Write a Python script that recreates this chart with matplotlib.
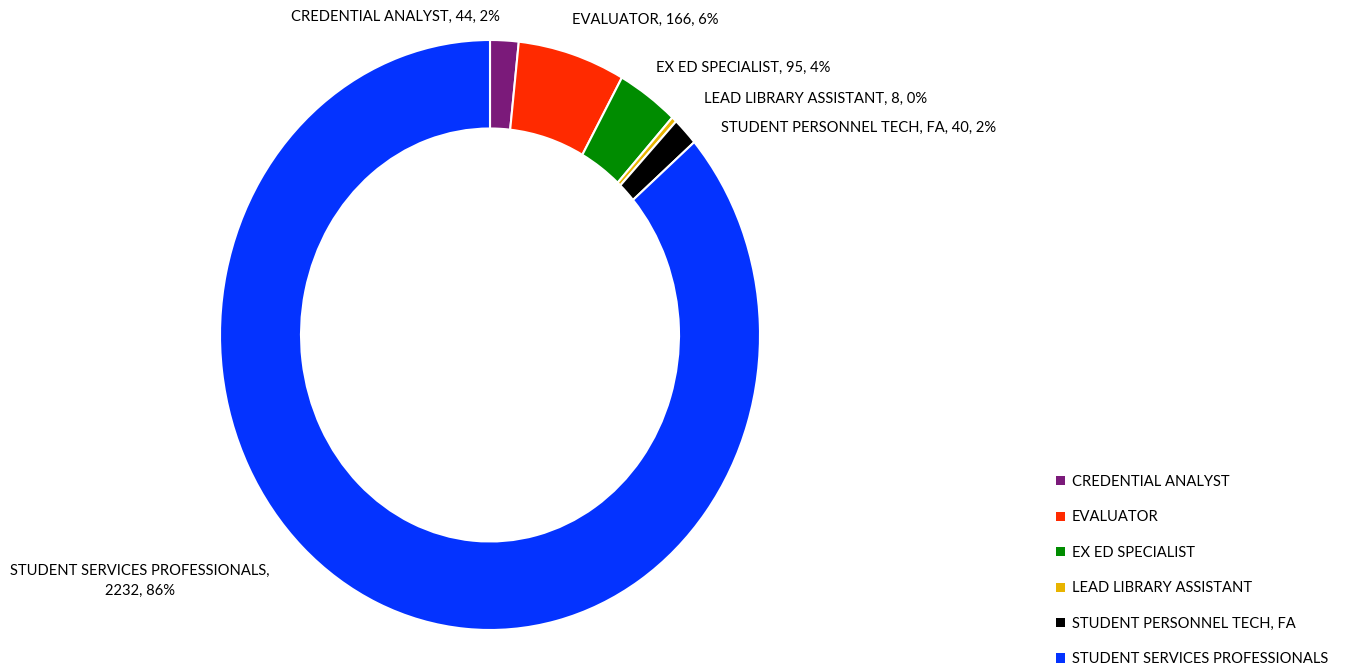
import matplotlib.pyplot as plt
from matplotlib.patches import Patch

# Data
categories = ["CREDENTIAL ANALYST", "EVALUATOR", "EX ED SPECIALIST",
              "LEAD LIBRARY ASSISTANT", "STUDENT PERSONNEL TECH, FA",
              "STUDENT SERVICES PROFESSIONALS"]
counts = [44, 166, 95, 8, 40, 2232]
colors = ["#7B1A7A", "#FF2A00", "#008C00", "#E8B400", "#000000", "#0433FF"]

plt.rcParams['font.family'] = ['Lato', 'DejaVu Sans']
fs = 10.6

W, H = 1346, 666
fig = plt.figure(figsize=(W / 100, H / 100), dpi=100)
ax = fig.add_axes([0, 0, 1, 1])

ax.pie(counts, colors=colors, startangle=90, counterclock=False, radius=1,
       wedgeprops=dict(width=0.3, edgecolor='white', linewidth=1.5))

# stretch the donut: center at pixel (490, 335), radius 270 px wide, 295 px tall
cx, cy, rx, ry = 490, 335, 270, 295
ax.set_aspect('auto')
ax.set_xlim(-cx / rx, (W - cx) / rx)
ax.set_ylim(-(H - cy) / ry, cy / ry)
ax.axis('off')

total = sum(counts)
labels = [f"{c}, {n}, {round(100 * n / total)}%" for c, n in zip(categories, counts)]

# label positions in pixels (x, y, ha)
label_pos = [(395, 17, 'center'), (645, 20, 'center'), (656, 68, 'left'),
             (704, 99, 'left'), (721, 128, 'left')]
for (x, y, ha), lab in zip(label_pos, labels[:5]):
    fig.text(x / W, 1 - y / H, lab, ha=ha, va='center', fontsize=fs)

last = f"{categories[5]},\n{counts[5]}, {round(100 * counts[5] / total)}%"
fig.text(140 / W, 1 - 581 / H, last, ha='center', va='center', fontsize=fs,
         linespacing=1.5)

handles = [Patch(facecolor=c, edgecolor='none') for c in colors]
fig.legend(handles, categories, loc='upper left',
           bbox_to_anchor=(1050 / W, 1 - 469 / H), frameon=False,
           fontsize=fs, handlelength=0.6, handleheight=0.6,
           handletextpad=0.5, labelspacing=1.46, borderaxespad=0)

fig.savefig("out.png", dpi=100)
